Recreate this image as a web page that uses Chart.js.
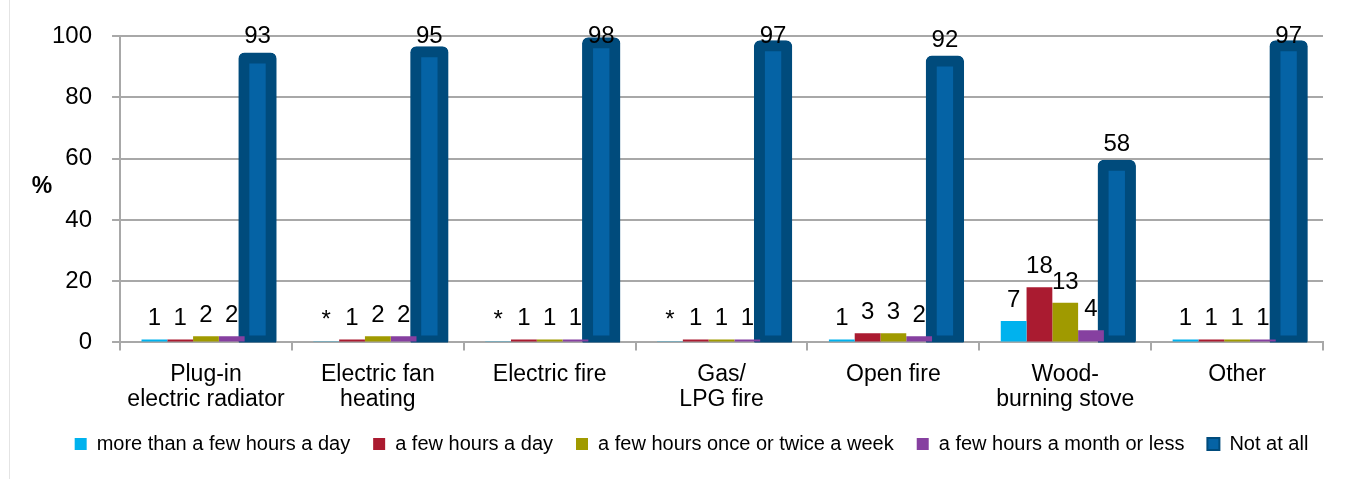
<!DOCTYPE html>
<html>
<head>
<meta charset="utf-8">
<script src="https://cdn.jsdelivr.net/npm/chart.js@4/dist/chart.umd.min.js"></script>
<style>
  html, body { margin: 0; padding: 0; background: #fff; }
  #wrap { position: relative; height: 479px; border-left: 1px solid #e4e4e4; margin-left: 9px; width: 1350px; }
  canvas { display: block; }
</style>
</head>
<body>
<div id="wrap"><canvas id="myChart" width="1350" height="479"></canvas></div>
<script>
const categories = [
  ['Plug-in', 'electric radiator'],
  ['Electric fan', 'heating'],
  'Electric fire',
  ['Gas/', 'LPG fire'],
  'Open fire',
  ['Wood-', 'burning stove'],
  'Other'
];
const seriesNames = [
  'more than a few hours a day',
  'a few hours a day',
  'a few hours once or twice a week',
  'a few hours a month or less',
  'Not at all'
];
// '*' = less than 0.5 per cent
const moreThanFewHours = [1, 0.4, 0.4, 0.4, 1, 7, 1];
const fewHoursDay = [1, 1, 1, 1, 3, 18, 1];
const onceTwiceWeek = [2, 2, 1, 1, 3, 13, 1];
const monthOrLess = [2, 2, 1, 1, 2, 4, 1];
const notAtAll = [93, 95, 98, 97, 92, 58, 97];

const lblMoreThan = ['1', '*', '*', '*', '1', '7', '1'];
const lblFewDay = ['1', '1', '1', '1', '3', '18', '1'];
const lblWeek = ['2', '2', '1', '1', '3', '13', '1'];
const lblMonth = ['2', '2', '1', '1', '2', '4', '1'];
const lblNot = ['93', '95', '98', '97', '92', '58', '97'];

const yTicks = [0, 20, 40, 60, 80, 100];

const FONT = "'Liberation Sans', Arial, sans-serif";

const valueLabels = {
  id: 'valueLabels',
  afterDatasetsDraw(chart) {
    const ctx = chart.ctx;
    const lists = [lblMoreThan, lblFewDay, lblWeek, lblMonth, lblNot];
    ctx.save();
    ctx.font = '24px ' + FONT;
    ctx.fillStyle = '#000';
    ctx.textAlign = 'center';
    ctx.textBaseline = 'alphabetic';
    chart.data.datasets.forEach((ds, i) => {
      chart.getDatasetMeta(i).data.forEach((bar, j) => {
        // keep labels inside the plot like excel does
        const y = Math.max(bar.y - 14, chart.chartArea.top + 7);
        ctx.fillText(lists[i][j], bar.x, y);
      });
    });
    ctx.restore();
  }
};

const percentTitle = {
  id: 'percentTitle',
  afterDraw(chart) {
    const ctx = chart.ctx;
    const a = chart.chartArea;
    ctx.save();
    ctx.font = 'bold 23px ' + FONT;
    ctx.fillStyle = '#000';
    ctx.textAlign = 'center';
    ctx.textBaseline = 'middle';
    ctx.fillText('%', 32, (a.top + a.bottom) / 2 - 3);
    ctx.restore();
  }
};

// nudge legend to the right a bit, it is not centred in the original
const legendShift = {
  id: 'legendShift',
  afterLayout(chart) {
    chart.legend.left += 14;
    chart.legend.right += 14;
  }
};

const ctx = document.getElementById('myChart').getContext('2d');
const chart = new Chart(ctx, {
  type: 'bar',
  data: {
    labels: categories,
    datasets: [
      { label: seriesNames[0], data: moreThanFewHours, backgroundColor: '#00B2EE', borderWidth: 0 },
      { label: seriesNames[1], data: fewHoursDay, backgroundColor: '#AA1B30', borderWidth: 0 },
      { label: seriesNames[2], data: onceTwiceWeek, backgroundColor: '#A09A00', borderWidth: 0 },
      { label: seriesNames[3], data: monthOrLess, backgroundColor: '#8640A0', borderWidth: 0 },
      {
        label: seriesNames[4], data: notAtAll,
        backgroundColor: '#0563A5', borderColor: '#004B7C',
        borderWidth: 11, borderSkipped: false, borderRadius: 6,
        inflateAmount: 5, barPercentage: 1.1
      }
    ]
  },
  options: {
    responsive: false,
    animation: false,
    devicePixelRatio: 1,
    layout: { padding: { left: 22, right: 37, top: 36, bottom: 15 } },
    categoryPercentage: 0.75,
    barPercentage: 1,
    scales: {
      y: {
        min: 0, max: 100,
        afterBuildTicks: axis => { axis.ticks = yTicks.map(v => ({ value: v })); },
        ticks: { font: { size: 24, family: FONT }, color: '#000', padding: 20 },
        grid: { color: '#A8A8A8', lineWidth: 2, tickLength: 8 },
        border: { color: '#A8A8A8', width: 2 }
      },
      x: {
        afterFit: s => { s.height -= 13; },
        ticks: { font: { size: 23, family: FONT, lineHeight: 1.12 }, color: '#000', padding: 11, maxRotation: 0 },
        grid: { drawOnChartArea: false, color: '#A8A8A8', lineWidth: 2, tickLength: 8 },
        border: { color: '#A8A8A8', width: 2 }
      }
    },
    plugins: {
      tooltip: { enabled: false },
      legend: {
        position: 'bottom',
        labels: {
          font: { size: 20, family: FONT },
          color: '#000',
          boxWidth: 12, boxHeight: 12,
          padding: 23,
          generateLabels: c => Chart.defaults.plugins.legend.labels.generateLabels(c).map(l => {
            l.lineWidth = l.datasetIndex === 4 ? 2 : 0;
            return l;
          })
        }
      }
    }
  },
  plugins: [valueLabels, percentTitle, legendShift]
});
</script>
</body>
</html>
